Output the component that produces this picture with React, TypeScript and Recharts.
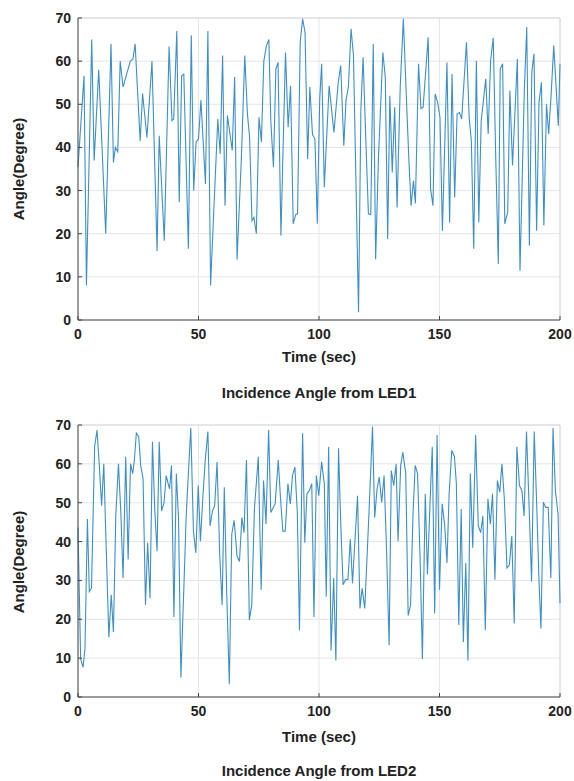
import { LineChart, Line, XAxis, YAxis, CartesianGrid, ReferenceLine } from "recharts"

// values (time in sec, angle in degrees)
const led1Time = [
  0, 2.5, 3.5, 5.7, 6.7, 8.6, 11.5, 13.7, 14.7, 15.5, 16.5, 17.5, 18.7, 20, 21.7, 22.8, 23.7, 25.8, 26.8, 28.6,
  30.7, 32.8, 33.7, 35.8, 37.8, 39, 39.7, 41, 42, 43, 43.9, 45.8, 47, 48, 49, 50, 51, 52.9, 53.9, 55,
  58, 59, 60, 61, 62, 64, 65, 66, 67.8, 69.2, 70.3, 71.2, 72.2, 73, 74, 75.1, 76.1, 77.1, 78.2, 79.2,
  80, 81.1, 82.1, 83, 84.2, 86.1, 87.2, 88.2, 89.3, 90.3, 91.1, 92.2, 93.2, 94.2, 95.3, 96.2, 97.3, 98.3, 99.3, 100.3,
  101.1, 102.2, 104.2, 106.2, 108, 109, 110.3, 111.2, 112.2, 113.3, 114.3, 116.4, 117.4, 118.3, 119.4, 120.5, 121.5, 122.5, 123.5, 124.7,
  126.5, 127.5, 128.5, 129.4, 130.4, 131.4, 132.4, 133.7, 135, 136.2, 137.3, 138.2, 139.2, 140, 141.3, 142.3, 143.2, 145.3, 146.3, 147.3,
  148.2, 149.2, 150.2, 151.2, 153.1, 154.2, 155.2, 156.3, 157.3, 158.3, 159.2, 161.2, 162.3, 163.2, 164.2, 165.3, 166.3, 167.3, 169.2, 170.2,
  171.2, 172.3, 173.3, 174.4, 175.2, 176.2, 177.1, 178.3, 179.2, 180.3, 182.3, 183.4, 185.2, 186.2, 187.3, 188.3, 189.2, 190.3, 191.3, 192.3,
  193.3, 194.4, 195.3, 196.3, 197.4, 199.3, 200,
]
const led1Angle = [
  35.4, 56.6, 8, 65, 37, 58, 20, 64, 36.5, 40, 39, 60, 54, 56.6, 60, 60.5, 64, 41.5, 52.5, 42.3,
  60, 16, 42.7, 18.4, 63.4, 46.2, 46.6, 67, 27.3, 56.6, 57, 16.5, 66, 30, 41.2, 42, 50.9, 31.5, 67, 8,
  46.6, 38.5, 61.3, 26.5, 47.4, 39.3, 56.3, 14, 37.7, 61.3, 47.8, 42.3, 23, 23.8, 20, 47, 41.2, 60, 63.6, 65,
  46.2, 35.4, 58.2, 59.7, 19.6, 62, 44.7, 54.3, 22.3, 24.4, 24.6, 64.4, 69.8, 66.7, 37.3, 54, 43, 42, 22.3, 51.2,
  59.4, 30.8, 54.3, 43.5, 55.1, 59, 40.4, 50.9, 54, 67.5, 61.3, 1.8, 49.3, 60.9, 42.3, 24.6, 24.4, 64, 14.1, 38,
  62, 56.3, 18.8, 52, 34.2, 49.3, 26.1, 54, 69.8, 52.4, 37, 26.5, 32.3, 27, 59.4, 49, 49.3, 65.5, 30.4, 26.5,
  52.4, 50.5, 47, 20.7, 59.7, 22.6, 57, 28.4, 47.8, 48.1, 46.6, 64.4, 47, 41.6, 16.5, 60.1, 22.6, 46.2, 55.9, 43.1,
  60.1, 65.4, 38.5, 13, 58.2, 59.4, 22.3, 25, 53.2, 35.8, 60.5, 11.4, 53.2, 67.9, 17.2, 57.4, 61.7, 20.7, 50.5, 55.1,
  21.9, 50, 43.1, 52, 63.6, 45, 59.4,
]

const led2Time = [
  0, 1.1, 2.1, 2.9, 3.9, 4.7, 5.6, 6.9, 7.9, 8.8, 9.8, 10.7, 11.7, 12.8, 13.8, 14.7, 15.7, 16.8, 17.8, 18.7,
  19.8, 20.8, 21.8, 22.7, 23.4, 24.2, 25.2, 26, 27, 28, 28.9, 29.9, 30.9, 31.8, 32.8, 33.7, 34.7, 35.7, 36.6, 37.6,
  38, 38.8, 39.8, 40.8, 41.7, 42.7, 44.9, 45.9, 46.8, 47.9, 48.9, 49.9, 50.8, 51.8, 52.8, 53.9, 54.8, 55.8, 56.7, 57.7,
  58.8, 59.8, 60.7, 61.7, 62.8, 63.8, 64.8, 66, 67, 68, 68.9, 69.9, 71.1, 72.1, 73.2, 74.8, 76, 77, 78, 79.1,
  80, 81.8, 83.1, 84, 85, 86, 87.1, 88.1, 89, 90, 91, 91.9, 93.2, 94.1, 95, 96, 97, 97.9, 98.9, 99.9,
  101.1, 102.2, 103, 104, 105, 106.1, 107, 108.1, 109.1, 110, 111, 112, 113, 113.9, 114.9, 116, 117, 117.9, 119, 120.9,
  122.2, 123.1, 124.1, 125, 126, 127, 128, 129.1, 130, 131, 132, 132.8, 133.9, 134.8, 136, 137, 138, 139, 139.9, 140.9,
  142, 142.9, 144.1, 145, 146, 147, 148, 149, 150, 151.1, 152.1, 153.1, 154, 155.1, 156.2, 157, 158, 159, 159.9, 160.9,
  161.8, 162.8, 163.8, 165, 166.1, 167.1, 168, 169, 170.1, 171.1, 172, 173, 174, 175, 175.9, 176.9, 178, 179, 180, 181,
  182.1, 183.2, 184.2, 185.1, 186.1, 187.1, 188.2, 189.3, 190.3, 191.3, 192.1, 193.1, 194.1, 195.1, 196.2, 197.1, 198.1, 199.2, 200,
]
const led2Angle = [
  43.6, 9.8, 7.6, 12.4, 45.8, 27.1, 28, 64.4, 68.7, 60, 49.2, 60, 38.4, 15.4, 26.3, 16.7, 47, 60, 47, 30.6,
  61.8, 35.4, 60, 57.5, 61, 67.9, 67, 59.6, 56.2, 23.7, 39.7, 25.4, 65.7, 48.8, 37.5, 65.7, 47.9, 50, 57, 54.4,
  53.6, 59.6, 20.6, 57.5, 46.2, 5, 46.6, 58.8, 69.2, 42.7, 37.1, 54.4, 40.1, 51.4, 61, 68.3, 44, 47.9, 49.2, 60.5,
  36.7, 23.7, 54, 27.1, 3.3, 41.9, 45.5, 36.2, 34.9, 46.2, 42.3, 61, 19.8, 23.7, 48.4, 61.8, 27.6, 55.7, 44.5, 68.7,
  47.5, 49.7, 61, 51.4, 42.7, 42.7, 54.9, 49.7, 57, 59.2, 47.5, 17.2, 67.9, 39.7, 52.3, 53.1, 54.9, 20.6, 57, 51.8,
  60.5, 54.9, 25.8, 64.4, 12, 30.6, 9.4, 64, 43.2, 28.9, 30.2, 30.2, 40.6, 29.3, 40.1, 51.8, 22.8, 28, 22.8, 49.7,
  69.6, 46.2, 53.6, 56.6, 50.1, 57, 38.4, 13.3, 58.3, 54.4, 60, 40.1, 59.6, 63, 57.5, 21, 23.7, 47, 59.6, 57.5,
  34.5, 9.8, 52.3, 31.5, 48.8, 64.4, 21.5, 67.4, 27.6, 49.7, 44.5, 34.5, 52.3, 63.5, 61.8, 54.9, 18.5, 48.4, 14.1, 34.5,
  9.4, 57.5, 38.4, 67.4, 44, 42.3, 46.6, 17.2, 51, 44.5, 52.3, 30.2, 55.7, 52.7, 60, 51, 33.2, 34, 41.4, 18.9,
  64.4, 54.4, 53.1, 46.6, 68.3, 50.5, 29.7, 68.3, 50.1, 29.7, 17.6, 50.1, 48.8, 48.8, 30.6, 69.2, 53.1, 47, 24.1,
]

const xTicks = [0, 50, 100, 150, 200]
const yTicks = [0, 10, 20, 30, 40, 50, 60, 70]

const font = "'Liberation Sans', Arial, Helvetica, sans-serif"
const textColor = "#222"
const lineColor = "#3f8fc6"

const tickStyle = { fontSize: 14, fontWeight: 700, fill: textColor, fontFamily: font }

function AnglePlot({ time, angle, height }: { time: number[]; angle: number[]; height: number }) {
  const data = time.map((t, i) => ({ t, v: angle[i] }))
  return (
    <LineChart width={574} height={height} data={data} margin={{ top: 18, right: 14, left: 0, bottom: 70 }}>
      <CartesianGrid stroke="#e6e6e6" strokeWidth={1} />
      <XAxis
        dataKey="t"
        type="number"
        domain={[0, 200]}
        ticks={xTicks}
        interval={0}
        height={20}
        tickSize={-4}
        tickMargin={13}
        tickLine={{ stroke: "#444" }}
        tick={tickStyle}
        axisLine={{ stroke: "#444" }}
      />
      <YAxis
        type="number"
        domain={[0, 70]}
        ticks={yTicks}
        interval={0}
        width={78}
        tickSize={-4}
        tickMargin={11}
        tickLine={{ stroke: "#444" }}
        tick={tickStyle}
        axisLine={{ stroke: "#444" }}
      />
      <ReferenceLine y={70} stroke="#d8d8d8" />
      <ReferenceLine x={200} stroke="#d8d8d8" />
      <Line type="linear" dataKey="v" stroke={lineColor} strokeWidth={1.1} dot={false} isAnimationActive={false} />
    </LineChart>
  )
}

const label = (top: number, text: string) => (
  <div
    style={{
      position: "absolute",
      top,
      left: 78,
      width: 482,
      textAlign: "center",
      fontFamily: font,
      fontWeight: 700,
      fontSize: 15,
      color: textColor,
      lineHeight: "18px",
    }}
  >
    {text}
  </div>
)

const yLabel = (centerY: number) => (
  <div
    style={{
      position: "absolute",
      left: 18,
      top: centerY,
      transform: "translate(-50%, -50%) rotate(-90deg)",
      whiteSpace: "nowrap",
      fontFamily: font,
      fontWeight: 700,
      fontSize: 15,
      color: textColor,
    }}
  >
    Angle(Degree)
  </div>
)

export default function App() {
  return (
    <div style={{ position: "absolute", left: 0, top: 0, width: 574, height: 781, background: "#fff" }}>
      <div style={{ position: "absolute", left: 0, top: 0 }}>
        <AnglePlot time={led1Time} angle={led1Angle} height={410} />
      </div>
      {yLabel(169)}
      {label(348, "Time (sec)")}
      {label(384, "Incidence Angle from LED1")}

      <div style={{ position: "absolute", left: 0, top: 407 }}>
        <AnglePlot time={led2Time} angle={led2Angle} height={380} />
      </div>
      {yLabel(562)}
      {label(728, "Time (sec)")}
      {label(762, "Incidence Angle from LED2")}
    </div>
  )
}
